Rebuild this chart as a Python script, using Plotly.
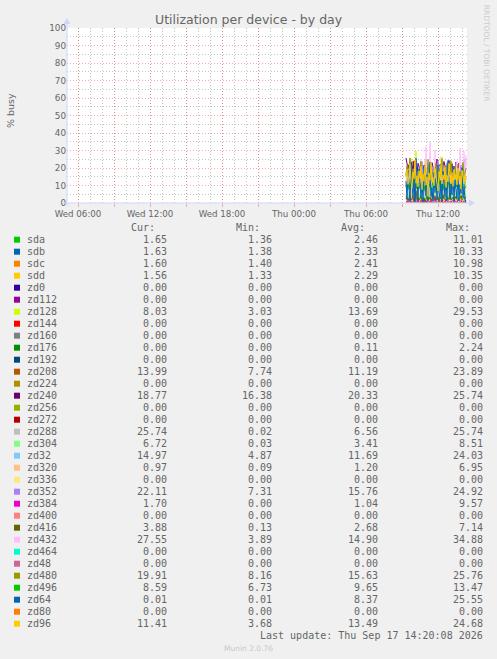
import datetime as dt
import plotly.graph_objects as go

# samples every 5 minutes, last one at Thu 14:20
last_sample = dt.datetime(2026, 9, 17, 14, 20)
step = dt.timedelta(minutes=5)

devices = ["sda", "sdb", "sdc", "sdd", "zd0", "zd112", "zd128", "zd144", "zd160", "zd176",
           "zd192", "zd208", "zd224", "zd240", "zd256", "zd272", "zd288", "zd304", "zd32",
           "zd320", "zd336", "zd352", "zd384", "zd400", "zd416", "zd432", "zd464", "zd48",
           "zd480", "zd496", "zd64", "zd80", "zd96"]
colors = ["#00CC00", "#0066B3", "#FF8000", "#FFCC00", "#330099", "#990099", "#CCFF00", "#FF0000",
          "#808080", "#008F00", "#00487D", "#B35A00", "#B38F00", "#6B006B", "#8FB300", "#B30000",
          "#BEBEBE", "#80FF80", "#80C9FF", "#FFC080", "#FFE680", "#AA80FF", "#EE00CC", "#FF8080",
          "#666600", "#FFBFFF", "#00FFCC", "#CC6699", "#999900", "#00CC00", "#0066B3", "#FF8000",
          "#FFCC00"]

# legend table values
cur_vals = [1.65, 1.63, 1.60, 1.56, 0, 0, 8.03, 0, 0, 0, 0, 13.99, 0, 18.77, 0, 0, 25.74, 6.72,
            14.97, 0.97, 0, 22.11, 1.70, 0, 3.88, 27.55, 0, 0, 19.91, 8.59, 0.01, 0, 11.41]
min_vals = [1.36, 1.38, 1.40, 1.33, 0, 0, 3.03, 0, 0, 0, 0, 7.74, 0, 16.38, 0, 0, 0.02, 0.03,
            4.87, 0.09, 0, 7.31, 0, 0, 0.13, 3.89, 0, 0, 8.16, 6.73, 0.01, 0, 3.68]
avg_vals = [2.46, 2.33, 2.41, 2.29, 0, 0, 13.69, 0, 0, 0.11, 0, 11.19, 0, 20.33, 0, 0, 6.56, 3.41,
            11.69, 1.20, 0, 15.76, 1.04, 0, 2.68, 14.90, 0, 0, 15.63, 9.65, 8.37, 0, 13.49]
max_vals = [11.01, 10.33, 10.98, 10.35, 0, 0, 29.53, 0, 0, 2.24, 0, 23.89, 0, 25.74, 0, 0, 25.74,
            8.51, 24.03, 6.95, 0, 24.92, 9.57, 0, 7.14, 34.88, 0, 0, 25.76, 13.47, 25.55, 0, 24.68]

# series (% busy)
sda = [2.1, 1.8, 3.4, 1.6, 2.2, 1.9, 11.0, 2.5, 1.7, 1.5, 2.0, 2.8, 1.6, 1.9, 2.3, 1.4, 1.8, 2.6, 3.1, 1.7,
       1.5, 2.0, 1.9, 2.4, 1.6, 1.8, 7.2, 2.2, 1.7, 1.5, 1.9, 2.1, 1.6, 2.7, 1.8, 1.4, 2.0, 2.3, 1.7, 1.9,
       1.6, 2.5, 1.8, 1.5, 2.2, 1.9, 5.6, 2.0, 1.7, 1.6, 2.1, 1.8, 1.5, 2.4, 1.9, 1.7, 1.6, 2.0, 1.8, 1.7, 1.65]
sdb = [1.9, 2.3, 1.6, 2.8, 1.5, 10.3, 2.0, 1.7, 2.4, 1.5, 1.9, 2.2, 1.6, 3.0, 1.8, 1.4, 2.1, 2.5, 1.7, 1.6,
       2.0, 2.7, 1.5, 1.9, 2.3, 6.4, 1.8, 1.6, 2.2, 1.7, 1.5, 2.4, 1.9, 1.6, 2.1, 1.8, 2.6, 1.5, 1.7, 2.0,
       1.9, 2.2, 1.6, 1.8, 4.9, 2.1, 1.7, 1.5, 2.3, 1.9, 1.6, 2.0, 1.8, 1.5, 2.2, 1.7, 1.9, 1.6, 2.0, 1.7, 1.63]
sdc = [2.2, 1.7, 2.9, 1.6, 2.4, 1.8, 10.98, 2.1, 1.6, 1.9, 2.6, 1.5, 2.0, 2.3, 1.7, 1.4, 2.5, 1.9, 2.8, 1.6,
       1.8, 2.2, 1.5, 2.0, 1.7, 2.4, 6.8, 2.0, 1.6, 1.9, 2.3, 1.5, 1.8, 2.6, 1.7, 1.4, 2.1, 1.9, 2.4, 1.6,
       1.8, 2.0, 1.5, 2.3, 1.7, 5.2, 1.9, 1.6, 2.2, 1.8, 1.5, 2.1, 1.7, 1.9, 2.4, 1.6, 1.8, 1.5, 2.0, 1.7, 1.60]
sdd = [1.8, 2.4, 1.5, 2.7, 1.9, 1.6, 10.35, 2.3, 1.7, 1.4, 2.2, 1.8, 2.6, 1.5, 1.9, 2.1, 1.6, 2.9, 1.7, 1.5,
       2.0, 1.8, 2.4, 1.6, 1.9, 6.1, 2.2, 1.7, 1.5, 2.0, 1.8, 2.3, 1.6, 1.9, 2.5, 1.4, 1.7, 2.1, 1.8, 1.6,
       2.2, 1.9, 1.5, 2.0, 4.7, 1.8, 1.6, 2.1, 1.7, 1.9, 1.5, 2.2, 1.8, 1.6, 2.0, 1.7, 1.9, 1.5, 1.8, 1.6, 1.56]
zd128 = [18.2, 12.5, 22.1, 9.4, 15.8, 25.3, 11.2, 6.8, 19.6, 14.1, 29.5, 10.3, 16.7, 8.2, 21.4, 13.5, 5.9,
         17.8, 12.0, 24.6, 9.1, 14.8, 3.0, 18.9, 11.6, 20.2, 15.3, 7.4, 13.9, 22.8, 10.5, 16.2, 6.3, 19.1,
         12.7, 26.4, 9.8, 14.5, 17.3, 8.6, 21.9, 11.1, 15.6, 4.8, 13.2, 23.5, 10.2, 16.9, 7.7, 12.4, 19.8,
         14.0, 9.3, 20.7, 11.8, 6.5, 15.1, 18.4, 10.9, 13.6, 8.03]
zd176 = [0, 0, 0, 0, 0, 0, 0, 0, 0, 0, 2.24, 0.6, 0, 0, 0, 0, 0, 0, 0, 0, 0, 0, 0, 0, 0, 0, 0, 0, 0, 0,
         0, 0, 0, 0, 0, 0, 1.3, 0, 0, 0, 0, 0, 0, 0, 0, 0, 0, 0, 0, 0, 0, 0, 0, 0, 0, 0, 0, 0, 0, 0, 0]
zd208 = [10.2, 8.5, 12.7, 9.1, 14.3, 7.9, 11.6, 23.9, 9.8, 10.4, 13.1, 8.2, 11.9, 9.5, 15.6, 8.8, 10.7, 12.3,
         7.7, 11.0, 18.4, 9.3, 10.9, 13.8, 8.6, 11.4, 9.9, 12.6, 8.4, 10.1, 16.2, 9.0, 11.7, 8.9, 12.9, 10.3,
         9.6, 14.7, 8.1, 11.2, 10.6, 9.2, 13.4, 8.7, 11.5, 20.1, 9.7, 10.8, 12.1, 8.3, 11.3, 9.4, 13.0, 10.0,
         8.8, 12.4, 9.9, 11.1, 10.5, 12.2, 13.99]
zd240 = [25.7, 22.4, 19.6, 21.8, 17.9, 23.5, 20.2, 18.4, 24.1, 19.3, 21.0, 16.9, 22.7, 20.5, 18.8, 23.9, 19.7,
         17.5, 21.6, 20.0, 24.6, 18.1, 20.9, 22.2, 16.4, 19.9, 23.1, 20.6, 18.6, 21.4, 19.1, 25.1, 20.3, 17.8,
         22.0, 19.5, 21.2, 18.3, 23.7, 20.8, 17.2, 21.9, 19.8, 24.3, 18.9, 20.4, 22.5, 17.6, 21.1, 19.4, 23.3,
         20.1, 18.2, 22.9, 19.0, 21.5, 17.4, 20.7, 24.8, 19.2, 18.77]
zd288 = [3.2, 8.5, 1.1, 5.7, 12.4, 0.4, 6.8, 2.3, 9.6, 4.1, 0.02, 7.3, 14.8, 3.6, 5.2, 1.8, 10.7, 6.1, 2.9, 8.0,
         0.8, 4.6, 11.9, 3.3, 7.5, 1.4, 5.9, 9.1, 2.2, 6.4, 18.6, 4.8, 0.9, 7.8, 3.9, 12.1, 5.5, 1.6, 8.7, 4.3,
         2.6, 6.9, 10.2, 3.1, 5.0, 0.6, 7.1, 15.3, 4.0, 2.0, 8.3, 5.6, 1.2, 6.6, 9.8, 3.5, 7.7, 2.8, 11.4, 4.5, 25.74]
zd304 = [2.1, 4.5, 0.8, 3.6, 5.9, 1.7, 3.0, 8.5, 2.4, 4.1, 0.03, 3.3, 6.2, 1.9, 4.8, 2.7, 3.9, 0.6, 5.4, 2.2,
         3.7, 7.1, 1.5, 4.3, 2.9, 3.4, 0.9, 5.1, 3.8, 2.5, 6.6, 1.3, 4.0, 2.8, 3.5, 5.7, 1.1, 3.2, 4.6, 2.0,
         3.6, 7.4, 2.6, 4.2, 1.8, 3.1, 5.3, 2.3, 3.9, 0.7, 4.4, 2.9, 6.0, 1.6, 3.5, 4.9, 2.1, 3.8, 1.4, 4.7, 6.72]
zd32 = [9.8, 14.2, 7.3, 12.6, 18.5, 8.9, 11.4, 6.1, 15.7, 10.3, 24.0, 9.2, 13.1, 7.8, 16.4, 11.0, 5.3, 12.8,
        19.6, 9.5, 14.0, 8.3, 11.9, 17.2, 6.7, 13.5, 10.6, 4.9, 15.1, 12.2, 9.0, 20.4, 11.3, 7.5, 13.8, 10.1,
        16.9, 8.6, 12.4, 14.6, 6.9, 11.7, 18.1, 9.7, 13.3, 10.8, 7.1, 15.5, 12.0, 8.4, 14.4, 11.5, 9.3, 16.0,
        10.4, 13.0, 7.9, 12.7, 9.9, 11.2, 14.97]
zd320 = [0.8, 1.2, 0.4, 2.1, 0.6, 1.0, 6.95, 1.5, 0.3, 0.9, 1.4, 0.5, 0.7, 1.8, 0.2, 1.1, 0.6, 3.4, 0.8, 0.4,
         1.3, 0.09, 0.7, 1.6, 0.5, 0.9, 1.2, 0.3, 2.6, 0.8, 0.6, 1.0, 0.4, 1.7, 0.5, 0.9, 1.1, 0.3, 4.2, 0.7,
         0.6, 1.3, 0.4, 0.8, 1.5, 0.5, 0.9, 0.2, 1.2, 0.6, 2.3, 0.7, 0.4, 1.0, 0.8, 0.5, 1.4, 0.6, 0.9, 0.3, 0.97]
zd352 = [16.2, 21.5, 12.8, 18.9, 24.9, 14.3, 10.7, 19.6, 15.1, 22.8, 13.4, 17.7, 7.3, 20.4, 16.8, 11.9, 23.6,
         15.5, 18.2, 12.5, 21.1, 14.7, 19.3, 9.6, 17.0, 22.3, 13.8, 16.5, 20.9, 11.2, 18.6, 15.9, 24.1, 13.1,
         17.4, 10.3, 19.8, 16.1, 21.7, 12.2, 15.3, 23.0, 14.0, 18.0, 8.9, 16.7, 20.1, 13.6, 17.9, 15.0, 22.5,
         12.0, 19.0, 14.9, 16.4, 21.3, 11.6, 18.4, 15.7, 20.6, 22.11]
zd384 = [0.5, 1.2, 0.0, 0.8, 2.3, 0.3, 1.0, 0.0, 0.6, 9.57, 0.9, 0.2, 1.4, 0.0, 0.7, 1.1, 0.4, 0.0, 2.8, 0.6,
         0.3, 1.3, 0.0, 0.8, 0.5, 1.6, 0.2, 0.0, 0.9, 4.1, 0.4, 0.7, 0.0, 1.2, 0.6, 0.3, 1.5, 0.0, 0.8, 0.4,
         2.1, 0.6, 0.0, 0.9, 0.3, 1.1, 0.5, 0.0, 3.3, 0.7, 0.2, 1.0, 0.6, 0.0, 0.8, 1.4, 0.3, 0.5, 0.9, 0.4, 1.70]
zd416 = [2.4, 3.1, 1.2, 2.8, 4.5, 1.7, 2.2, 3.6, 0.9, 2.7, 7.14, 2.0, 3.3, 1.5, 2.6, 3.9, 1.1, 2.5, 3.0, 0.13,
         2.9, 4.2, 1.8, 2.3, 3.4, 1.4, 2.7, 5.6, 2.1, 3.2, 1.6, 2.4, 3.7, 1.0, 2.8, 3.1, 1.9, 4.8, 2.2, 2.6,
         1.3, 3.5, 2.0, 2.9, 6.1, 1.7, 2.5, 3.3, 1.5, 2.7, 3.8, 2.1, 1.2, 3.0, 2.4, 4.4, 1.8, 2.6, 3.2, 2.3, 3.88]
zd432 = [12.3, 18.6, 8.4, 15.2, 22.7, 10.1, 6.8, 16.9, 13.4, 20.5, 9.7, 14.8, 3.9, 17.3, 11.6, 25.1, 13.0, 8.9,
         19.4, 15.7, 32.2, 10.8, 16.3, 12.1, 34.88, 14.2, 9.3, 18.1, 11.4, 30.1, 13.7, 7.6, 16.6, 21.2, 10.4,
         14.5, 26.3, 12.6, 8.1, 17.6, 13.9, 10.0, 15.4, 22.1, 11.1, 16.0, 7.2, 13.3, 19.0, 10.6, 14.1, 24.2,
         12.8, 9.1, 31.4, 15.9, 11.8, 17.1, 29.6, 13.5, 27.55]
zd480 = [15.2, 20.8, 11.4, 17.6, 25.8, 13.1, 9.7, 18.3, 14.6, 22.4, 12.0, 16.9, 8.2, 19.5, 15.8, 23.7, 11.9,
         17.2, 13.6, 21.0, 10.5, 16.4, 24.9, 14.3, 18.8, 12.5, 20.3, 15.0, 9.4, 17.8, 22.9, 13.8, 16.1, 11.2,
         19.9, 14.8, 25.3, 12.9, 17.4, 10.8, 21.6, 15.6, 13.2, 18.6, 16.5, 24.1, 11.7, 17.0, 14.1, 20.7, 12.3,
         15.9, 22.2, 13.5, 18.1, 10.2, 16.8, 23.3, 14.4, 17.5, 19.91]
zd496 = [9.2, 10.8, 8.1, 11.5, 7.6, 9.9, 12.3, 8.7, 10.2, 13.47, 9.0, 7.9, 11.1, 9.6, 8.4, 10.7, 12.0, 8.9, 9.5,
         6.73, 10.4, 11.8, 8.3, 9.7, 10.9, 7.4, 9.1, 12.6, 8.8, 10.1, 9.3, 11.4, 7.8, 10.0, 12.9, 8.6, 9.8, 10.5,
         7.2, 11.0, 9.4, 8.2, 10.6, 12.2, 9.0, 8.5, 11.3, 9.7, 7.7, 10.3, 9.1, 11.9, 8.4, 10.0, 9.6, 12.4, 8.0,
         9.8, 10.7, 9.2, 8.59]
zd64 = [12.4, 2.1, 18.7, 5.3, 0.8, 22.6, 9.1, 3.4, 15.8, 0.5, 25.55, 6.7, 1.2, 19.3, 10.4, 2.8, 13.6, 0.3, 20.9,
        7.5, 4.1, 16.2, 1.0, 11.8, 23.4, 3.7, 8.6, 0.9, 17.5, 5.9, 14.2, 1.6, 21.7, 6.3, 2.4, 12.9, 0.6, 18.1,
        9.7, 3.1, 15.0, 1.4, 24.3, 7.0, 2.0, 11.2, 4.6, 19.8, 0.7, 13.3, 8.2, 2.6, 16.9, 1.1, 10.5, 5.4, 20.2,
        3.0, 9.4, 1.8, 0.01]
zd96 = [14.8, 19.2, 10.6, 16.3, 22.5, 12.1, 8.4, 17.7, 13.9, 24.68, 11.3, 15.6, 9.2, 18.4, 14.1, 20.9, 7.6, 16.8,
        12.4, 21.3, 10.2, 15.0, 3.68, 17.1, 13.0, 23.2, 11.7, 14.6, 9.8, 19.6, 15.3, 12.7, 6.9, 18.0, 14.4, 21.8,
        10.9, 16.1, 13.3, 20.4, 8.8, 15.8, 12.0, 22.7, 14.9, 11.0, 17.4, 9.5, 19.1, 13.6, 16.6, 10.4, 20.0, 12.9,
        15.4, 7.9, 18.7, 14.2, 11.8, 16.4, 11.41]
# devices that stayed idle the whole time
idle = [0.0] * 61

series = {"sda": sda, "sdb": sdb, "sdc": sdc, "sdd": sdd, "zd128": zd128, "zd176": zd176,
          "zd208": zd208, "zd240": zd240, "zd288": zd288, "zd304": zd304, "zd32": zd32,
          "zd320": zd320, "zd352": zd352, "zd384": zd384, "zd416": zd416, "zd432": zd432,
          "zd480": zd480, "zd496": zd496, "zd64": zd64, "zd96": zd96}

x_tickvals = ["2026-09-16 06:00", "2026-09-16 09:00", "2026-09-16 12:00", "2026-09-16 15:00",
              "2026-09-16 18:00", "2026-09-16 21:00", "2026-09-17 00:00", "2026-09-17 03:00",
              "2026-09-17 06:00", "2026-09-17 09:00", "2026-09-17 12:00"]
x_ticktext = ["Wed 06:00", "", "Wed 12:00", "", "Wed 18:00", "", "Thu 00:00", "", "Thu 06:00", "", "Thu 12:00"]

# pixel box of the plotting area
L, R, T, B = 67, 467, 28, 203
W, H = 497, 659


def px(x):
    return (x - L) / (R - L)


def py(y):
    return (B - y) / (B - T)


FONT = "#666666"
GRID = "rgba(140,140,140,0.5)"
MGRID = "rgba(232,91,91,0.5)"
AXIS = "#CFD6F8"

fig = go.Figure()
for name, color in zip(devices, colors):
    vals = series.get(name, idle)
    times = [last_sample - step * (len(vals) - 1 - i) for i in range(len(vals))]
    fig.add_trace(go.Scatter(x=times, y=vals, mode="lines", name=name,
                             line=dict(color=color, width=1), showlegend=False))

fig.update_xaxes(range=["2026-09-16 05:05", "2026-09-17 14:25"], type="date",
                 tickmode="array", tickvals=x_tickvals, ticktext=x_ticktext,
                 showgrid=True, gridcolor=MGRID, griddash="1px,2px", gridwidth=1,
                 ticks="outside", ticklen=3, tickcolor=MGRID,
                 minor=dict(tick0="2026-09-16 06:00", dtick=3600000, showgrid=True,
                            gridcolor=GRID, griddash="1px,2px", gridwidth=1),
                 tickfont=dict(family="DejaVu Sans", size=8.7, color=FONT),
                 showline=False, zeroline=False)
fig.update_yaxes(range=[0, 100], dtick=10, showgrid=True, gridcolor=MGRID, griddash="1px,2px",
                 gridwidth=1, minor=dict(dtick=5, showgrid=True, gridcolor=GRID,
                                         griddash="1px,2px", gridwidth=1),
                 tickfont=dict(family="DejaVu Sans", size=8.8, color=FONT),
                 showline=False, zeroline=False)

shapes = []
# axis lines and arrows
shapes.append(dict(type="line", xref="paper", yref="paper", x0=px(63), x1=px(469), y0=py(B), y1=py(B),
                   line=dict(color=AXIS, width=1)))
shapes.append(dict(type="line", xref="paper", yref="paper", x0=px(L), x1=px(L), y0=py(206), y1=py(23),
                   line=dict(color=AXIS, width=1)))
shapes.append(dict(type="path", xref="paper", yref="paper",
                   path="M %f %f L %f %f L %f %f Z" % (px(469), py(B - 3.5), px(475), py(B), px(469), py(B + 3.5)),
                   fillcolor=AXIS, line=dict(width=0)))
shapes.append(dict(type="path", xref="paper", yref="paper",
                   path="M %f %f L %f %f L %f %f Z" % (px(L - 3.5), py(24), px(L), py(18), px(L + 3.5), py(24)),
                   fillcolor=AXIS, line=dict(width=0)))

annotations = []
mono = dict(family="DejaVu Sans Mono", size=10, color=FONT)


def label(x, y, text, anchor, font, angle=0):
    annotations.append(dict(x=px(x), y=py(y), xref="paper", yref="paper", text=text, showarrow=False,
                            xanchor=anchor, yanchor="middle", font=font, borderpad=0, borderwidth=0,
                            textangle=angle))


# legend table header
for head, xr in zip(["Cur:", "Min:", "Avg:", "Max:"], [154.5, 260, 365, 470]):
    label(xr, 227, head, "right", mono)

row0, row_h = 239.7, 12
for i, name in enumerate(devices):
    yy = row0 + row_h * i
    shapes.append(dict(type="rect", xref="paper", yref="paper", x0=px(14), x1=px(20),
                       y0=py(yy - 3), y1=py(yy + 3), fillcolor=colors[i], line=dict(width=0)))
    label(26.5, yy, name, "left", mono)
    for vals, xr in zip([cur_vals, min_vals, avg_vals, max_vals], [166.7, 272.3, 377.7, 482.7]):
        label(xr, yy, "%.2f" % vals[i], "right", mono)

label(482.7, 635.5, "Last update: Thu Sep 17 14:20:08 2026", "right", mono)
label(248.5, 648, "Munin 2.0.76", "center", dict(family="DejaVu Sans", size=7.5, color="#C8C8C8"))
label(248.5, 19, "Utilization per device - by day", "center", dict(family="DejaVu Sans", size=12.5, color=FONT))
label(11, 110, "% busy", "center", dict(family="DejaVu Sans", size=9.5, color=FONT), angle=-90)
label(486.7, 53.5, "RRDTOOL / TOBI OETIKER", "center",
      dict(family="DejaVu Sans", size=7.5, color="#CCCCCC"), angle=90)

fig.update_layout(width=W, height=H, margin=dict(l=L, r=W - R, t=T, b=H - B),
                  paper_bgcolor="#F0F0F0", plot_bgcolor="#FFFFFF",
                  shapes=shapes, annotations=annotations, showlegend=False)

# page body has an 8px default margin; drop it so the figure fills the window
fig.write_html("out.html", config={"displayModeBar": False},
               post_script="document.body.style.margin='0';")
